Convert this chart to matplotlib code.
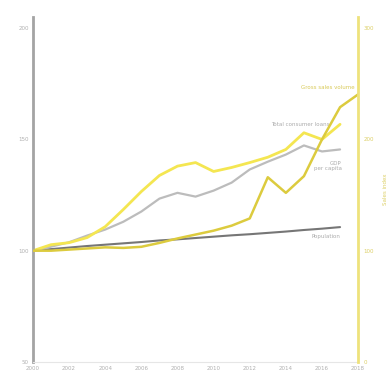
import matplotlib.pyplot as plt

years = list(range(2000, 2019))

# indexed series, 2000 = 100
consumer_load = [100, 102.7, 103.6, 105.9, 110.8, 118.5, 126.6, 133.8, 138, 139.6,
                 135.6, 137.4, 139.6, 142, 145.5, 153, 150, 156.8]
gdp_per_capita = [100, 101.8, 103.8, 106.8, 109.5, 113, 117.6, 123.4, 126, 124.3,
                  127, 130.6, 136.5, 140, 143.2, 147.3, 144.6, 145.5]
population = [100, 100.7, 101.4, 102.1, 102.7, 103.3, 103.9, 104.6, 105.1, 105.7,
              106.3, 106.9, 107.4, 108.0, 108.6, 109.3, 109.9, 110.6]
# right axis
gross_sales = [100, 100, 101, 102, 103, 102.5, 103.5, 107, 111, 114.5,
               118, 122.5, 129, 166, 152, 167, 200, 229, 240.5]

left_ticks = [50, 100, 150, 200]
right_ticks = [0, 100, 200, 300]
x_ticks = list(range(2000, 2019, 2))

c_yellow = "#f4e651"
c_mustard = "#dccb3e"
c_grey = "#bcbcbc"
c_dark = "#767676"
c_axis_y = "#eee27c"

fig = plt.figure(figsize=(3.88, 3.79), dpi=100)
ax = fig.add_axes([0.085, 0.045, 0.838, 0.91])

ax.plot(years[:18], population, color=c_dark, lw=1.5, solid_capstyle="round")
ax.plot(years[:18], gdp_per_capita, color=c_grey, lw=1.6, solid_capstyle="round")
ax.plot(years[:18], consumer_load, color=c_yellow, lw=2.0, solid_capstyle="round")

ax2 = ax.twinx()
ax2.plot(years, gross_sales, color=c_mustard, lw=1.8, solid_capstyle="round")

ax.set_xlim(2000, 2018)
ax.set_ylim(50, 205)
ax2.set_ylim(0, 310)

ax.set_xticks(x_ticks)
ax.set_yticks(left_ticks)
ax2.set_yticks(right_ticks)
ax.tick_params(axis="both", labelsize=4, colors="#b0b0b0", length=0, pad=3)
ax2.tick_params(axis="y", labelsize=4, colors="#dccf66", length=0, pad=4)

for a in (ax, ax2):
    a.spines["top"].set_visible(False)
ax.spines["right"].set_visible(False)
ax.spines["left"].set_color("#a4a4a4")
ax.spines["left"].set_linewidth(2)
ax.spines["bottom"].set_color("#e6e6e6")
ax.spines["bottom"].set_linewidth(0.8)
ax2.spines["left"].set_visible(False)
ax2.spines["bottom"].set_visible(False)
ax2.spines["right"].set_color(c_axis_y)
ax2.spines["right"].set_linewidth(2)

ax2.set_ylabel("Sales index", fontsize=4, color="#dccf66", labelpad=6)

# line labels
ax2.text(2017.8, 247, "Gross sales volume", fontsize=4, color="#d8c955",
         ha="right", va="center")
ax.text(2016.4, 156.5, "Total consumer loans", fontsize=4, color="#ababab",
        ha="right", va="center")
ax.text(2017.1, 140.5, "GDP\nper capita", fontsize=4, color="#ababab",
        ha="right", va="top", multialignment="right", linespacing=1.1)
ax.text(2017.0, 107.5, "Population", fontsize=4, color="#ababab",
        ha="right", va="top")

fig.savefig("out.png", dpi=100)
